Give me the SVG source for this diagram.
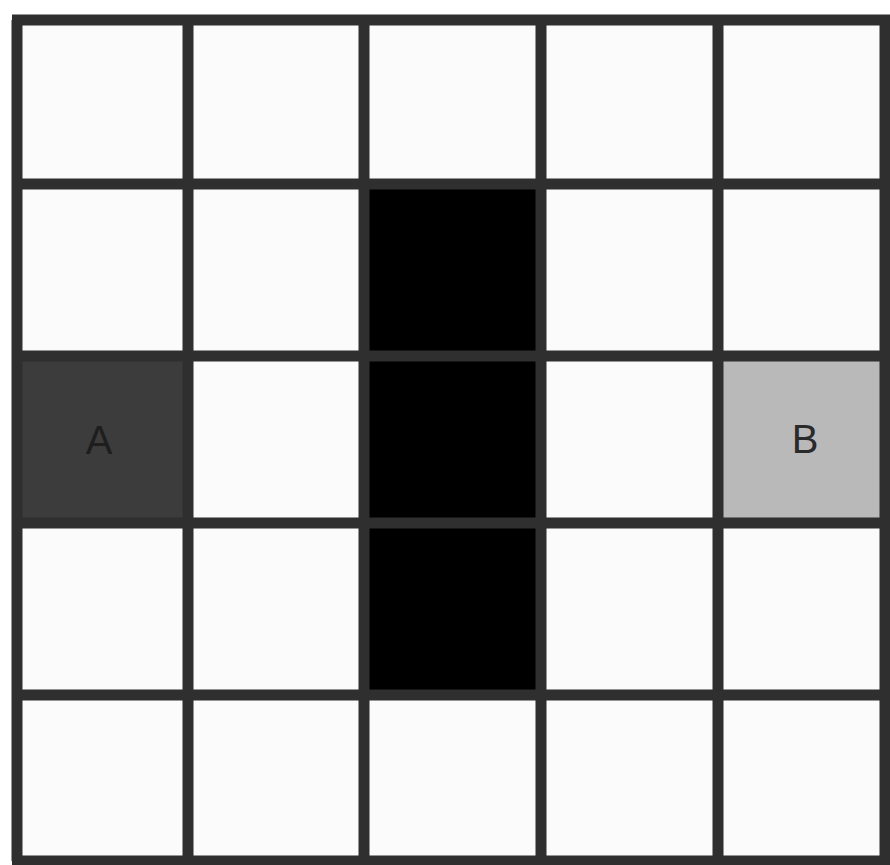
<svg xmlns="http://www.w3.org/2000/svg" width="890" height="865" viewBox="0 0 890 865">
<style>
.cell{fill:#fbfbfb}
.wall{fill:#000}
.grid{stroke:#2f2f2f;stroke-width:11;fill:none}
.lbl{font-family:"Liberation Sans",Arial,sans-serif;font-size:40px;text-anchor:middle;dominant-baseline:central}
</style>
<rect width="890" height="865" fill="#fff"/>
<g id="cells">
<rect class="cell" x="17" y="20" width="869" height="841"/>
</g>
<g id="wall">
<rect class="wall" x="364" y="184" width="177" height="511"/>
</g>
<g id="nodeA">
<rect x="17" y="356" width="171" height="167" fill="#3c3c3c"/>
<text class="lbl" x="99" y="440" fill="#1e1e1e">A</text>
</g>
<g id="nodeB">
<rect x="718" y="356" width="168" height="167" fill="#b9b9b9"/>
<text class="lbl" x="805" y="439" fill="#2a2a2a">B</text>
</g>
<g id="gridlines">
<path class="grid" d="M17 20V861M188 20V861M364 20V861M541 20V861M718 20V861M885 20V861M12 20H890M12 184H890M12 356H890M12 523H890M12 695H890M12 861H890"/>
</g>
</svg>
